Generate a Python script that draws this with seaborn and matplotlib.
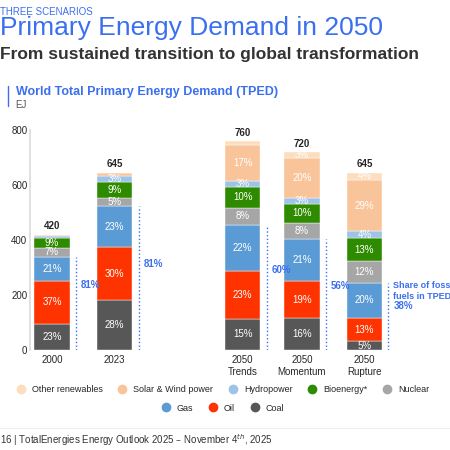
import matplotlib
matplotlib.use("Agg")
import matplotlib.pyplot as plt
import seaborn as sns
import numpy as np
from matplotlib.lines import Line2D

sns.set_theme(style="white")
plt.rcParams['font.family'] = ['Liberation Sans', 'DejaVu Sans']

categories = ["2000", "2023", "2050\nTrends", "2050\nMomentum", "2050\nRupture"]
totals = [420, 645, 760, 720, 645]
sources = ["Coal", "Oil", "Gas", "Nuclear", "Bioenergy*", "Hydropower", "Solar & Wind power", "Other renewables"]
shares = {
    "Coal":               [23, 28, 15, 16, 5],
    "Oil":                [37, 30, 23, 19, 13],
    "Gas":                [21, 23, 22, 21, 20],
    "Nuclear":            [7, 5, 8, 8, 12],
    "Bioenergy*":         [9, 9, 10, 10, 13],
    "Hydropower":         [2, 3, 3, 3, 4],
    "Solar & Wind power": [1, 2, 17, 20, 29],
    "Other renewables":   [0, 0, 2, 3, 4],
}
fossil_share = [81, 81, 60, 56, 38]
colors = {"Coal": "#575757", "Oil": "#FF3300", "Gas": "#5B9BD5", "Nuclear": "#A6A6A6",
          "Bioenergy*": "#2E8B00", "Hydropower": "#9DC3E6", "Solar & Wind power": "#F9C49A",
          "Other renewables": "#FCDDBE"}
xpos = [0, 1, 3.05, 4.0, 5.0]
label_y = [236, 313, 290, 233, 160]

fig = plt.figure(figsize=(4.5, 4.5), dpi=100)
ax = fig.add_axes([0.067, 0.222, 0.84, 0.489])
bw = 0.57
bottoms = np.zeros(len(totals))
for s in sources:
    vals = np.array(totals) * np.array(shares[s]) / 100
    ax.bar(xpos, vals, bw, bottom=bottoms, color=colors[s], edgecolor="white", linewidth=0.3)
    for i, (v, sh) in enumerate(zip(vals, shares[s])):
        if sh >= 3 or (s == "Coal" and sh > 0):
            ax.text(xpos[i], bottoms[i] + v / 2, f"{sh}%", ha="center", va="center",
                    color="white", fontsize=7)
    bottoms += vals
for i, t in enumerate(totals):
    ax.text(xpos[i], t + 12, str(t), ha="center", va="bottom", fontsize=7, fontweight="bold")
for i in range(len(totals)):
    top = totals[i] * sum(shares[s][i] for s in ["Coal", "Oil", "Gas"]) / 100
    lx = xpos[i] + bw / 2 + 0.1
    ax.plot([lx, lx], [0, top], ls=":", color="#3A6FF0", lw=1)
    ax.text(lx + 0.08, label_y[i], f"{fossil_share[i]}%", color="#3A6FF0", fontsize=7,
            fontweight="bold", va="center", ha="left")
ax.text(xpos[4] + bw / 2 + 0.18, 215, "Share of fossil\nfuels in TPED %", color="#3A6FF0",
        fontsize=6.5, fontweight="bold", va="center", ha="left", clip_on=False)

ax.set_xlim(-0.35, 5.7)
ax.set_ylim(0, 800)
ax.set_yticks([0, 200, 400, 600, 800])
ax.set_xticks(xpos)
ax.set_xticklabels(categories, fontsize=7)
ax.tick_params(axis="y", labelsize=7, pad=2, length=0)
ax.tick_params(axis="x", length=0)
for sp in ["top", "right", "bottom"]:
    ax.spines[sp].set_visible(False)
ax.spines["left"].set_color("#dddddd")

fig.text(0.0, 0.985, "THREE SCENARIOS", color="#3A6FF0", fontsize=7, va="top")
fig.text(0.0, 0.965, "Primary Energy Demand in 2050", color="#3A6FF0", fontsize=19, va="top")
fig.text(0.0, 0.895, "From sustained transition to global transformation", color="#333333",
         fontsize=12.5, fontweight="bold", va="top")
fig.add_artist(Line2D([0.018, 0.018], [0.765, 0.81], color="#3A6FF0", lw=1))
fig.text(0.035, 0.81, "World Total Primary Energy Demand (TPED)", color="#3A6FF0", fontsize=9,
         fontweight="bold", va="top")
fig.text(0.035, 0.777, "EJ", color="#555555", fontsize=7, va="top")

def handles(names):
    return [Line2D([], [], marker="o", ls="", color=colors[n], markersize=6) for n in names]
row1 = ["Other renewables", "Solar & Wind power", "Hydropower", "Bioenergy*", "Nuclear"]
row2 = ["Gas", "Oil", "Coal"]
fig.legend(handles(row1), row1, loc="center", bbox_to_anchor=(0.49, 0.135), ncol=5,
           frameon=False, fontsize=6.5, handletextpad=0.2, columnspacing=1.2)
fig.legend(handles(row2), row2, loc="center", bbox_to_anchor=(0.49, 0.093), ncol=3,
           frameon=False, fontsize=6.5, handletextpad=0.2, columnspacing=1.2)
fig.add_artist(Line2D([0, 1], [0.05, 0.05], color="#eeeeee", lw=0.8))
fig.text(0.0, 0.022, "16 | TotalEnergies Energy Outlook 2025 – November 4$^{th}$, 2025",
         fontsize=7, color="#333333", va="center")
fig.savefig("out.png", dpi=100)
